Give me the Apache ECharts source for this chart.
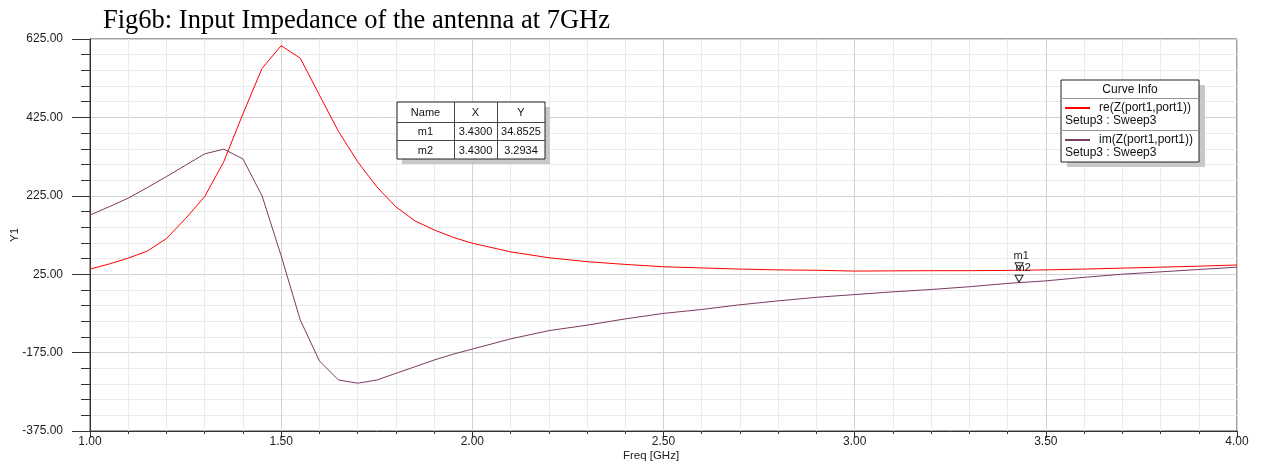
<!DOCTYPE html>
<html>
<head>
<meta charset="utf-8">
<title>Fig6b</title>
<script src="https://cdn.jsdelivr.net/npm/echarts@6/dist/echarts.min.js"></script>
<style>
	html, body { margin: 0; padding: 0; background: #fff; }
	#chart { width: 1262px; height: 466px; }
</style>
</head>
<body>
<div id="chart"></div>
<script>
	// frequency points (GHz)
	const freq = [1.00, 1.05, 1.10, 1.15, 1.20, 1.25, 1.30, 1.35, 1.40, 1.45, 1.50, 1.55, 1.60, 1.65, 1.70, 1.75, 1.80, 1.85, 1.90, 1.95, 2.00,
		2.1, 2.2, 2.3, 2.4, 2.5, 2.6, 2.7, 2.8, 2.9, 3.0, 3.1, 3.2, 3.3, 3.4, 3.5, 3.6, 3.7, 3.8, 3.9, 4.0]
	// re(Z) and im(Z), ohm
	const reZ = [38, 51, 66, 84, 116, 167, 223, 312, 434, 550, 608, 576, 482, 389, 312, 248, 197, 161, 138, 119, 104,
		82, 67, 57, 50, 44, 41, 38, 36, 35, 33, 33.5, 34, 34, 34.6, 36, 38, 40.5, 43, 45.5, 48.5]
	const imZ = [176, 197, 219, 246, 274, 303, 332, 344, 319, 225, 72, -92, -196, -245, -253, -245, -228, -211, -194, -179, -166,
		-140, -119, -105, -89, -75, -65, -53, -43, -34, -27, -20, -14, -7, 1.5, 8, 17, 25, 31, 37, 43]

	const seriesNames = ['re(Z(port1,port1))', 'im(Z(port1,port1))']
	const seriesSetup = 'Setup3 : Sweep3'
	const seriesColors = ['#ff0000', '#7b3a62']

	const markerNames = ['m1', 'm2']
	const markerX = [3.4300, 3.4300]
	const markerY = [34.8525, 3.2934]

	const yTicks = [-375, -175, 25, 225, 425, 625]

	const FONT = 'Liberation Sans'

	function pairs(ys) {
		return freq.map((f, i) => [f, ys[i]])
	}

	// Curve Info box
	const ci = { x: 1061, y: 80, w: 138, h: 82 }
	const curveInfo = [
		{ type: 'rect', shape: { x: ci.x + 6, y: ci.y + 5, width: ci.w, height: ci.h }, style: { fill: '#c8c8c8' } },
		{ type: 'rect', shape: { x: ci.x, y: ci.y, width: ci.w, height: ci.h }, style: { fill: '#fff', stroke: '#222', lineWidth: 1 } },
		{ type: 'line', shape: { x1: ci.x, y1: 98.5, x2: ci.x + ci.w, y2: 98.5 }, style: { stroke: '#999', lineWidth: 1 } },
		{ type: 'line', shape: { x1: ci.x, y1: 130.5, x2: ci.x + ci.w, y2: 130.5 }, style: { stroke: '#999', lineWidth: 1 } },
		{ type: 'text', x: ci.x + ci.w / 2, y: 89.5, style: { text: 'Curve Info', font: '12px ' + FONT, fill: '#111', align: 'center', verticalAlign: 'middle' } }
	]
	seriesNames.forEach((name, i) => {
		const top = i === 0 ? 108 : 140
		curveInfo.push(
			{ type: 'line', shape: { x1: 1065, y1: top, x2: 1090, y2: top }, style: { stroke: seriesColors[i], lineWidth: 2 } },
			{ type: 'text', x: 1099, y: top, style: { text: name, font: '12px ' + FONT, fill: '#111', verticalAlign: 'middle' } },
			{ type: 'text', x: 1065, y: top + 13, style: { text: seriesSetup, font: '12px ' + FONT, fill: '#111', verticalAlign: 'middle' } }
		)
	})

	// marker table
	const tb = { x: 397, y: 102, w: 148, h: 57 }
	const cols = [397, 454, 497, 545]
	const rows = [102, 122, 140, 159]
	const markerTable = [
		{ type: 'rect', shape: { x: tb.x + 5, y: tb.y + 5, width: tb.w, height: tb.h }, style: { fill: '#c8c8c8' } },
		{ type: 'rect', shape: { x: tb.x, y: tb.y, width: tb.w, height: tb.h }, style: { fill: '#fff', stroke: '#222', lineWidth: 1 } }
	]
	cols.slice(1, 3).forEach(cx => {
		markerTable.push({ type: 'line', shape: { x1: cx + 0.5, y1: tb.y, x2: cx + 0.5, y2: tb.y + tb.h }, style: { stroke: '#444', lineWidth: 1 } })
	})
	rows.slice(1, 3).forEach(ry => {
		markerTable.push({ type: 'line', shape: { x1: tb.x, y1: ry + 0.5, x2: tb.x + tb.w, y2: ry + 0.5 }, style: { stroke: '#444', lineWidth: 1 } })
	})
	const cellRows = [['Name', 'X', 'Y']]
	markerNames.forEach((n, i) => cellRows.push([n, markerX[i].toFixed(4), markerY[i].toFixed(4)]))
	cellRows.forEach((r, ri) => {
		r.forEach((txt, cj) => {
			markerTable.push({
				type: 'text',
				x: (cols[cj] + cols[cj + 1]) / 2,
				y: (rows[ri] + rows[ri + 1]) / 2 + 1,
				style: { text: txt, font: '11px ' + FONT, fill: '#111', align: 'center', verticalAlign: 'middle' }
			})
		})
	})

	// put the boxes above the grid lines
	const boxes = markerTable.concat(curveInfo).map(el => Object.assign({ z: 100 }, el))

	const chart = echarts.init(document.getElementById('chart'))
	chart.setOption({
		backgroundColor: '#fff',
		animation: false,
		title: {
			text: 'Fig6b: Input Impedance of the antenna at 7GHz',
			left: 98,
			top: 3,
			textStyle: { fontFamily: 'Liberation Serif', fontSize: 26.5, fontWeight: 'normal', color: '#000' }
		},
		grid: {
			left: 90, right: 25, top: 39, bottom: 35,
			outerBoundsMode: 'none',
			show: true, borderColor: '#444', borderWidth: 1, backgroundColor: '#fff'
		},
		xAxis: {
			type: 'value',
			min: 1,
			max: 4,
			interval: 0.5,
			name: 'Freq [GHz]',
			nameLocation: 'middle',
			nameGap: 19,
			nameMoveOverlap: false,
			nameTextStyle: { fontFamily: FONT, fontSize: 11.5, color: '#222', padding: [0, 25, 0, 0] },
			axisLine: { onZero: false, lineStyle: { color: '#333' } },
			axisTick: { length: 7, lineStyle: { color: '#333' } },
			minorTick: { show: true, splitNumber: 5, length: 3, lineStyle: { color: '#333' } },
			axisLabel: { margin: 5, fontFamily: FONT, fontSize: 12, color: '#222', formatter: v => v.toFixed(2) },
			splitLine: { show: true, lineStyle: { color: '#d2d2d2' } },
			minorSplitLine: { show: true, lineStyle: { color: '#ebebeb' } }
		},
		yAxis: [{
			type: 'value',
			min: -375,
			max: 625,
			name: 'Y1',
			nameLocation: 'middle',
			nameGap: 69,
			nameMoveOverlap: false,
			nameTextStyle: { fontFamily: FONT, fontSize: 11.5, color: '#222' },
			axisLine: { show: true, onZero: false, lineStyle: { color: '#333' } },
			axisTick: { show: true, length: 18, customValues: yTicks, lineStyle: { color: '#333' } },
			axisLabel: { margin: 27, fontFamily: FONT, fontSize: 12, color: '#222', customValues: yTicks, formatter: v => v.toFixed(2) },
			splitLine: { show: false },
			z: 3
		}, {
			// minor grid every 40 (same span as -375..625)
			type: 'value',
			min: 0,
			max: 1000,
			interval: 40,
			position: 'left',
			axisLine: { show: false, onZero: false },
			axisTick: { show: true, length: 9, lineStyle: { color: '#333' } },
			axisLabel: { show: false },
			splitLine: { show: true, lineStyle: { color: '#ebebeb' } }
		}, {
			// major grid every 200
			type: 'value',
			min: 0,
			max: 1000,
			interval: 200,
			position: 'left',
			axisLine: { show: false, onZero: false },
			axisTick: { show: false },
			axisLabel: { show: false },
			splitLine: { show: true, lineStyle: { color: '#d2d2d2' } }
		}],
		series: seriesNames.map((name, i) => ({
			name: name,
			type: 'line',
			yAxisIndex: 0,
			data: pairs(i === 0 ? reZ : imZ),
			showSymbol: false,
			z: 4,
			lineStyle: { color: seriesColors[i], width: 1 },
			itemStyle: { color: seriesColors[i] },
			markPoint: {
				symbol: 'triangle',
				symbolSize: [8, 7],
				symbolRotate: 180,
				symbolOffset: [0, -4],
				itemStyle: { color: '#fff', borderColor: '#222', borderWidth: 1 },
				label: {
					show: true,
					position: i === 0 ? [-1, -12] : [1, -12],
					fontFamily: FONT,
					fontSize: 11,
					color: '#222',
					formatter: markerNames[i]
				},
				data: [{ coord: [markerX[i], markerY[i]] }]
			}
		})),
		graphic: boxes
	})
</script>
</body>
</html>
